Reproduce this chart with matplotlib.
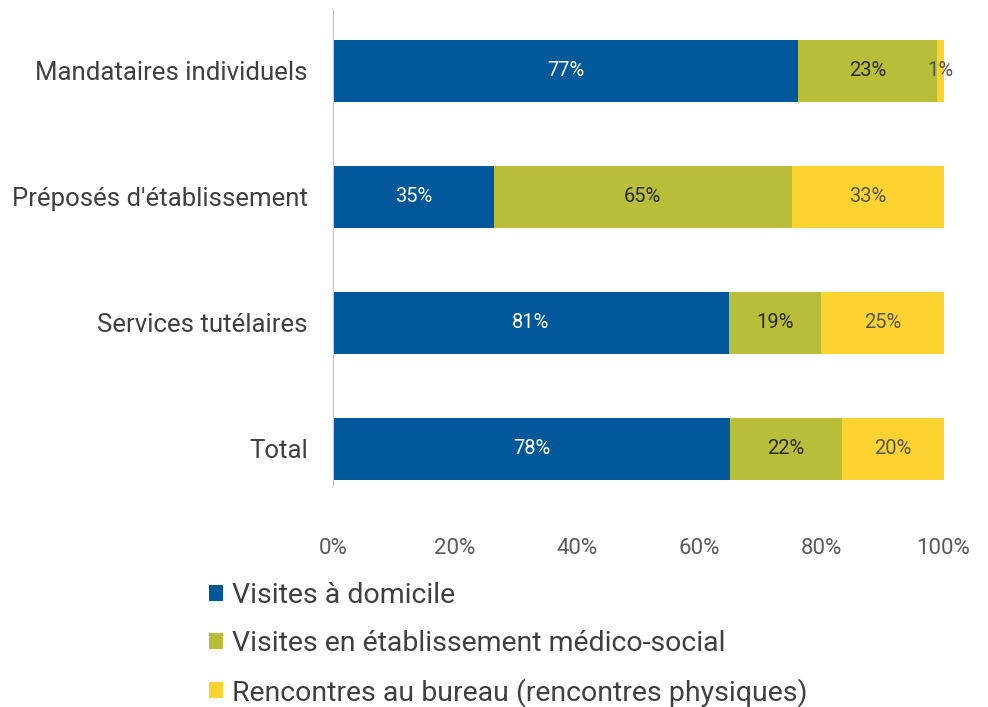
import matplotlib.pyplot as plt
import numpy as np

plt.rcParams['font.family'] = ['Roboto', 'DejaVu Sans']

# Raw percentages shown on the bars (rows do not sum to 100, bars are normalised)
categories = ['Mandataires individuels', "Préposés d'établissement", 'Services tutélaires', 'Total']
domicile = [77, 35, 81, 78]
etablissement = [23, 65, 19, 22]
bureau = [1, 33, 25, 20]

series_names = ['Visites à domicile',
                'Visites en établissement médico-social',
                'Rencontres au bureau (rencontres physiques)']
colors = ['#00579a', '#b8bd3a', '#fdd42f']
text_colors = ['white', '#2b2b2b', '#555555']

raw = np.array([domicile, etablissement, bureau], dtype=float)
shares = raw / raw.sum(axis=0) * 100

fig = plt.figure(figsize=(9.88, 7.07), dpi=100)
ax = fig.add_axes([0.337, 0.314, 0.618, 0.672])

y = np.arange(len(categories))
left = np.zeros(len(categories))
handles = []
for k in range(3):
    bars = ax.barh(y, shares[k], left=left, height=0.49, color=colors[k], label=series_names[k])
    handles.append(bars)
    for i in range(len(categories)):
        ax.text(left[i] + shares[k][i] / 2, y[i], f'{int(raw[k][i])}%',
                ha='center', va='center', fontsize=14.5, color=text_colors[k])
    left += shares[k]

ax.set_xlim(0, 100)
ax.set_ylim(3.286, -0.484)
ax.set_yticks(y)
ax.set_yticklabels(categories, fontsize=18.5, color='#404040')
ax.set_xticks(np.arange(0, 101, 20))
ax.set_xticklabels([f'{v}%' for v in range(0, 101, 20)], fontsize=16, color='#595959')
ax.tick_params(axis='both', length=0)
ax.tick_params(axis='x', pad=38)
ax.tick_params(axis='y', pad=18)
for side in ['top', 'right', 'bottom']:
    ax.spines[side].set_visible(False)
ax.spines['left'].set_color('#c8c8c8')

fig.legend(handles=handles, loc='upper left', bbox_to_anchor=(0.2, 0.193),
           frameon=False, fontsize=20.5, handlelength=0.5, handleheight=0.5,
           handletextpad=0.3, labelspacing=0.74, borderaxespad=0, labelcolor='#404040')

fig.savefig('out.png', dpi=100)
